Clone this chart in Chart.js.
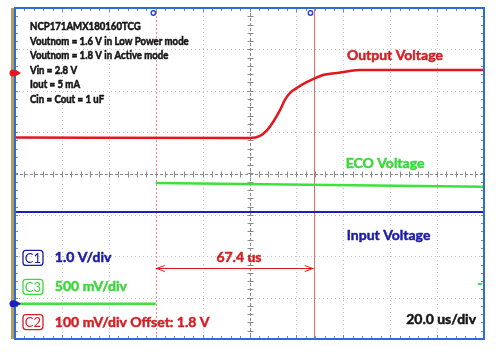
<!DOCTYPE html>
<html>
<head>
<meta charset="utf-8">
<script src="https://cdn.jsdelivr.net/npm/chart.js@4"></script>
<style>
  body { margin: 0; background: #fff; }
  #wrap { width: 500px; height: 352px; position: relative; }
</style>
</head>
<body>
<div id="wrap"><canvas id="scopeChart"></canvas></div>
<script>
// time in us (10 div x 20 us), values in screen divisions (-4..4)
const redTime = [0, 100.2, 104.5, 107.5, 110.0, 113.0, 115.1, 117.3, 120.3, 122.8, 127.1, 131.3, 137.3, 142.9, 147.1, 200];
const redDiv = [0.87, 0.86, 0.91, 1.05, 1.24, 1.53, 1.78, 1.95, 2.07, 2.16, 2.28, 2.38, 2.43, 2.48, 2.50, 2.50];
// ECO is low before the first cursor and high after it (no edge drawn)
const greenTime = [0, 60, 60, 60, 200];
const greenDiv = [-3.15, -3.15, null, -0.23, -0.32];
const blueTime = [0, 200];
const blueDiv = [-0.93, -0.93];

const cursorA = 60;     // us
const cursorB = 127.4;  // us
const deltaLabel = '67.4 us';

const infoLines = [
  'NCP171AMX180160TCG',
  'Voutnom = 1.6 V in Low Power mode',
  'Voutnom = 1.8 V in Active mode',
  'Vin = 2.8 V',
  'Iout = 5 mA',
  'Cin = Cout = 1 uF'
];
const infoDiv = [3.57, 3.20, 2.86, 2.50, 2.16, 1.80];

const channelTags = ['C1', 'C3', 'C2'];
const channelText = ['1.0 V/div', '500 mV/div', '100 mV/div Offset: 1.8 V'];
const channelDiv = [-2.04, -2.74, -3.59];

const RED = '#e3161d';
const GREEN = '#3ae23a';
const BLUE = '#1d1dc4';
const TXT_RED = '#d41f26';
const TXT_GREEN = '#3ad93a';
const TXT_BLUE = '#1c1ca6';
const FONT = 'Lato, "Open Sans", sans-serif';

function pts(xs, ys) { return xs.map((x, i) => ({ x: x, y: ys[i] })); }

// heavier text: fill plus a thin stroke of the same colour
function heavyText(ctx, s, px, py, w) {
  ctx.fillText(s, px, py);
  ctx.strokeStyle = ctx.fillStyle;
  ctx.lineWidth = w || 0.5;
  ctx.strokeText(s, px, py);
}

// condensed text (reference uses a narrow font)
function narrowText(ctx, s, px, py, squeeze) {
  ctx.save();
  ctx.textAlign = 'left';
  ctx.translate(px, py);
  ctx.scale(squeeze, 1);
  heavyText(ctx, s, 0, 0, 0.6);
  ctx.restore();
}

// grid, frame ticks, cursors
const scopeGrid = {
  id: 'scopeGrid',
  beforeDatasetsDraw(chart) {
    const { ctx, chartArea: a, scales: { x, y } } = chart;
    ctx.save();
    ctx.lineWidth = 1;
    // dotted grid
    ctx.strokeStyle = '#c4c4c4';
    ctx.setLineDash([1, 3]);
    for (let t = 20; t < 200; t += 20) {
      if (t === 100) continue;
      const px = Math.round(x.getPixelForValue(t)) + 0.5;
      ctx.beginPath(); ctx.moveTo(px, a.top); ctx.lineTo(px, a.bottom); ctx.stroke();
    }
    for (let d = -3; d <= 3; d++) {
      if (d === 0) continue;
      const py = Math.round(y.getPixelForValue(d)) + 0.5;
      ctx.beginPath(); ctx.moveTo(a.left, py); ctx.lineTo(a.right, py); ctx.stroke();
    }
    // center axes
    ctx.strokeStyle = '#8a8a8a';
    ctx.setLineDash([3, 2]);
    const cx = Math.round(x.getPixelForValue(100)) + 0.5;
    const cy = Math.round(y.getPixelForValue(0)) + 0.5;
    ctx.beginPath(); ctx.moveTo(cx, a.top); ctx.lineTo(cx, a.bottom); ctx.stroke();
    ctx.beginPath(); ctx.moveTo(a.left, cy); ctx.lineTo(a.right, cy); ctx.stroke();
    ctx.setLineDash([]);
    // minor ticks (5 per div)
    ctx.strokeStyle = '#8a8a8a';
    for (let t = 4; t < 200; t += 4) {
      const px = Math.round(x.getPixelForValue(t)) + 0.5;
      const len = t % 20 === 0 ? 4 : 3;
      ctx.beginPath();
      ctx.moveTo(px, a.top); ctx.lineTo(px, a.top + len);
      ctx.moveTo(px, a.bottom); ctx.lineTo(px, a.bottom - len);
      ctx.moveTo(px, cy - 3); ctx.lineTo(px, cy + 3);
      ctx.stroke();
    }
    for (let d = -3.8; d < 4; d += 0.2) {
      const py = Math.round(y.getPixelForValue(d)) + 0.5;
      ctx.beginPath();
      ctx.moveTo(a.left, py); ctx.lineTo(a.left + 3, py);
      ctx.moveTo(a.right, py); ctx.lineTo(a.right - 3, py);
      ctx.moveTo(cx - 3, py); ctx.lineTo(cx + 3, py);
      ctx.stroke();
    }
    // cursors
    const ca = Math.round(x.getPixelForValue(cursorA)) + 0.5;
    const cb = Math.round(x.getPixelForValue(cursorB)) + 0.5;
    ctx.strokeStyle = '#f08a8a';
    ctx.setLineDash([2, 2]);
    ctx.beginPath(); ctx.moveTo(ca, a.top); ctx.lineTo(ca, a.bottom); ctx.stroke();
    ctx.setLineDash([]);
    ctx.strokeStyle = '#e86a6a';
    ctx.beginPath(); ctx.moveTo(cb, a.top); ctx.lineTo(cb, a.bottom); ctx.stroke();
    ctx.restore();
  },
  afterDatasetsDraw(chart) {
    const { ctx, chartArea: a, scales: { x, y } } = chart;
    ctx.save();
    // frame
    ctx.fillStyle = '#b29d60';
    ctx.fillRect(a.left - 4, a.top, 3, a.bottom - a.top);
    ctx.strokeStyle = '#2b6cd8';
    ctx.lineWidth = 2;
    ctx.strokeRect(a.left, a.top, a.right - a.left, a.bottom - a.top);

    // info block
    ctx.fillStyle = '#161616';
    ctx.font = 'bold 12px ' + FONT;
    ctx.textBaseline = 'middle';
    infoLines.forEach((s, i) => narrowText(ctx, s, x.getPixelForValue(6.4), y.getPixelForValue(infoDiv[i]), 0.8));

    // trace labels
    ctx.font = 'bold 14px ' + FONT;
    ctx.textAlign = 'center';
    ctx.fillStyle = TXT_RED;
    heavyText(ctx, 'Output Voltage', x.getPixelForValue(162), y.getPixelForValue(2.86));
    ctx.fillStyle = TXT_GREEN;
    heavyText(ctx, 'ECO Voltage', x.getPixelForValue(157.8), y.getPixelForValue(0.23));
    ctx.fillStyle = TXT_BLUE;
    heavyText(ctx, 'Input Voltage', x.getPixelForValue(159.3), y.getPixelForValue(-1.51));

    // delta arrow
    const ay = Math.round(y.getPixelForValue(-2.28)) + 0.5;
    const xa = x.getPixelForValue(cursorA), xb = x.getPixelForValue(cursorB);
    ctx.strokeStyle = RED;
    ctx.lineWidth = 1;
    ctx.beginPath();
    ctx.moveTo(xa, ay); ctx.lineTo(xb, ay);
    ctx.moveTo(xa + 9, ay - 3); ctx.lineTo(xa + 1, ay); ctx.lineTo(xa + 9, ay + 3);
    ctx.moveTo(xb - 9, ay - 3); ctx.lineTo(xb - 1, ay); ctx.lineTo(xb - 9, ay + 3);
    ctx.stroke();
    ctx.fillStyle = TXT_RED;
    heavyText(ctx, deltaLabel, x.getPixelForValue(95.5), y.getPixelForValue(-2.02));

    // channel legend
    const boxCol = [TXT_BLUE, TXT_GREEN, TXT_RED];
    channelTags.forEach((tag, i) => {
      const cyy = y.getPixelForValue(channelDiv[i]);
      const bx = x.getPixelForValue(3.4);
      ctx.strokeStyle = boxCol[i];
      ctx.lineWidth = 1.3;
      ctx.beginPath();
      ctx.roundRect(bx, cyy - 7.5, 20, 15, 3);
      ctx.stroke();
      ctx.fillStyle = boxCol[i];
      ctx.font = '13px ' + FONT;
      ctx.textAlign = 'center';
      ctx.fillText(tag, bx + 10, cyy + 0.5);
      ctx.font = 'bold 14px ' + FONT;
      ctx.textAlign = 'left';
      heavyText(ctx, channelText[i], x.getPixelForValue(17), cyy);
    });

    ctx.fillStyle = '#161616';
    ctx.textAlign = 'right';
    heavyText(ctx, '20.0 us/div', x.getPixelForValue(196.6), y.getPixelForValue(-3.54));

    // channel markers on left edge
    const marker = (py, col) => {
      ctx.fillStyle = col;
      ctx.beginPath(); ctx.arc(a.left - 2, py, 3.5, 0, Math.PI * 2); ctx.fill();
      ctx.beginPath(); ctx.moveTo(a.left + 1, py - 3); ctx.lineTo(a.left + 6, py); ctx.lineTo(a.left + 1, py + 3); ctx.fill();
    };
    marker(y.getPixelForValue(2.43), RED);
    marker(y.getPixelForValue(-3.15), BLUE);

    // trigger markers on top edge
    ctx.strokeStyle = '#2848c8';
    ctx.lineWidth = 1.5;
    [cursorA - 1, 126].forEach(t => {
      ctx.beginPath(); ctx.arc(x.getPixelForValue(t), a.top + 5, 2.2, 0, Math.PI * 2); ctx.stroke();
    });

    // small green marker near right edge
    ctx.fillStyle = GREEN;
    ctx.fillRect(x.getPixelForValue(197.4), y.getPixelForValue(-2.67) - 1, 4, 2);
    ctx.restore();
  }
};

new Chart(document.getElementById('scopeChart'), {
  type: 'line',
  data: {
    datasets: [
      { label: 'Input', data: pts(blueTime, blueDiv), borderColor: BLUE, borderWidth: 2, tension: 0 },
      { label: 'ECO', data: pts(greenTime, greenDiv), borderColor: GREEN, borderWidth: 2.5, tension: 0, spanGaps: false },
      { label: 'Output', data: pts(redTime, redDiv), borderColor: RED, borderWidth: 2.5, cubicInterpolationMode: 'monotone' }
    ]
  },
  options: {
    responsive: true,
    maintainAspectRatio: false,
    animation: false,
    events: [],
    elements: { point: { radius: 0 } },
    layout: { padding: { left: 15, top: 8, right: 16, bottom: 13 } },
    plugins: { legend: { display: false }, tooltip: { enabled: false } },
    scales: {
      x: { type: 'linear', min: 0, max: 200, display: false },
      y: { type: 'linear', min: -4, max: 4, display: false }
    }
  },
  plugins: [scopeGrid]
});
</script>
</body>
</html>
